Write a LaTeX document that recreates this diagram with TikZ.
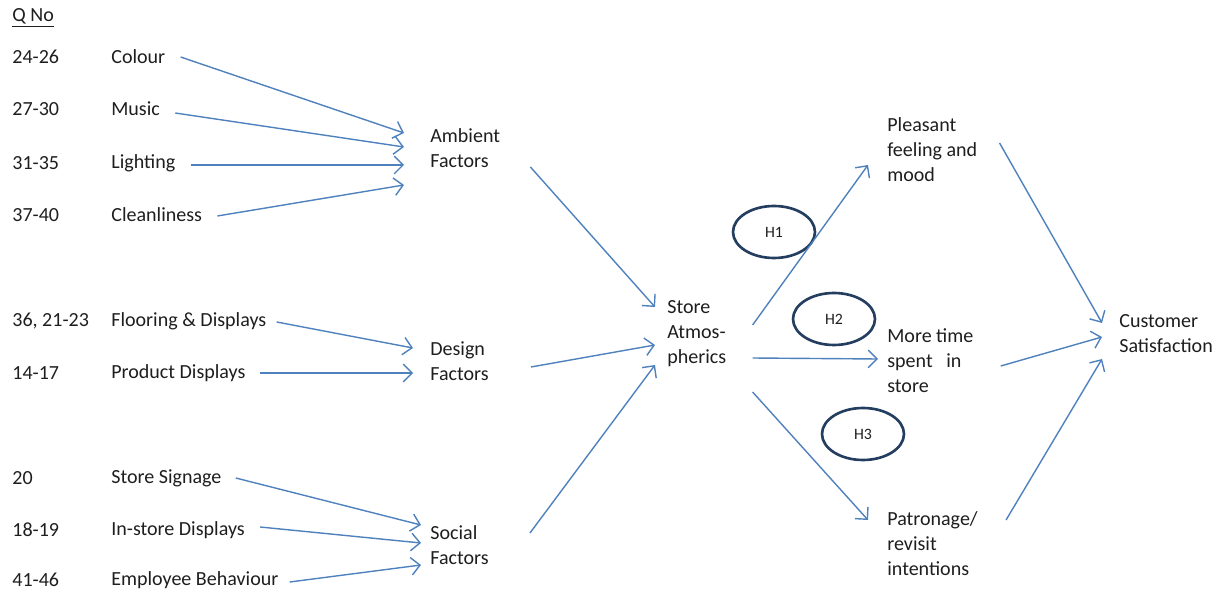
\documentclass[tikz,border=0pt]{standalone}
\usepackage{fontspec}
\setmainfont{Carlito}
\usetikzlibrary{arrows.meta,shapes.geometric}

\definecolor{arrowblue}{RGB}{79,129,189}
\definecolor{ovalnavy}{RGB}{36,62,96}
\definecolor{textgrey}{RGB}{30,30,30}

\begin{document}
\begin{tikzpicture}[x=0.02cm, y=-0.02cm,
  font=\fontsize{11.4}{14.2}\selectfont, text=textgrey,
  lbl/.style={anchor=west, inner sep=0pt, align=left},
  arr/.style={draw=arrowblue, line width=0.8pt, -{Straight Barb[length=5pt,width=10pt]}},
  hyp/.style={draw=ovalnavy, line width=1.5pt, ellipse, inner sep=0pt,
    minimum width=1.64cm, minimum height=1.04cm, font=\fontsize{9}{10}\selectfont}]

\useasboundingbox (0,0) rectangle (1232,591);

% ========== Question numbers and items ==========
\node[lbl] (qno) at (12,18) {\underline{Q No}};
\foreach \nm/\qn/\txt/\y in {colour/24-26/Colour/57, music/27-30/Music/109,
    light/31-35/Lighting/163, clean/37-40/Cleanliness/215,
    floor/{36, 21-23}/Flooring \& Displays/321, prod/14-17/Product Displays/373,
    sign/20/Store Signage/478, instore/18-19/In-store Displays/530,
    empl/41-46/Employee Behaviour/580} {
  \node[lbl] (q-\nm) at (12,\y) {\qn};
  \node[lbl] (\nm) at (111,\y) {\txt};
}

% ========== Factor groups ==========
\node[lbl] (amb) at (430,148) {Ambient\\Factors};
\node[lbl] (des) at (430,361) {Design\\Factors};
\node[lbl] (soc) at (430,545) {Social\\Factors};

% Store atmospherics in the middle
\node[lbl] (store) at (667,334) {Store\\Atmos-\\pherics};

% ========== Outcomes ==========
\node[lbl] (pleas) at (887,150) {Pleasant\\feeling and\\mood};
\node[lbl] (more) at (887,361) {More time\\spent \ \ in\\store};
\node[lbl] (patr) at (887,544) {Patronage/\\revisit\\intentions};
\node[lbl] (cust) at (1119,334) {Customer\\Satisfaction};

% Hypotheses
\node[hyp] (h1) at (774,232) {H1};
\node[hyp] (h2) at (834,319) {H2};
\node[hyp] (h3) at (863,434) {H3};

% ========== Items to factors ==========
\draw[arr] ([shift={(15,0)}]colour.east) -- ([shift={(-26,-15)}]amb.west);
\draw[arr] ([shift={(15,4)}]music.east) -- ([shift={(-26,-1)}]amb.west);
\draw[arr] ([shift={(15,2)}]light.east) -- ([shift={(-26,17)}]amb.west);
\draw[arr] ([shift={(15,1)}]clean.east) -- ([shift={(-26,37)}]amb.west);

\draw[arr] ([shift={(10,1)}]floor.east) -- ([shift={(-17,-13)}]des.west);
\draw[arr] ([shift={(14,0)}]prod.east) -- ([shift={(-17,12)}]des.west);

\draw[arr] ([shift={(14,0)}]sign.east) -- ([shift={(-9,-20)}]soc.west);
\draw[arr] ([shift={(15,-3)}]instore.east) -- ([shift={(-9,-2)}]soc.west);
\draw[arr] ([shift={(11,2)}]empl.east) -- ([shift={(-9,20)}]soc.west);

% ========== Factors to store atmospherics ==========
\draw[arr] ([shift={(30,19)}]amb.east) -- ([shift={(-12,-27)}]store.west);
\draw[arr] ([shift={(42,6)}]des.east) -- ([shift={(-12,11)}]store.west);
\draw[arr] ([shift={(41,-12)}]soc.east) -- ([shift={(-12,31)}]store.west);

% ========== Store atmospherics to outcomes ==========
\draw[arr] ([shift={(26,-9)}]store.east) -- ([shift={(-19,15)}]pleas.west);
\draw[arr] ([shift={(26,24)}]store.east) -- ([shift={(-9,-2)}]more.west);
\draw[arr] ([shift={(26,58)}]store.east) -- ([shift={(-19,-24)}]patr.west);

% ========== Outcomes to customer satisfaction ==========
\draw[arr] ([shift={(22,-7)}]pleas.east) -- ([shift={(-17,-11)}]cust.west);
\draw[arr] ([shift={(27,5)}]more.east) -- ([shift={(-17,3)}]cust.west);
\draw[arr] ([shift={(28,-24)}]patr.east) -- ([shift={(-17,25)}]cust.west);

\end{tikzpicture}
\end{document}
